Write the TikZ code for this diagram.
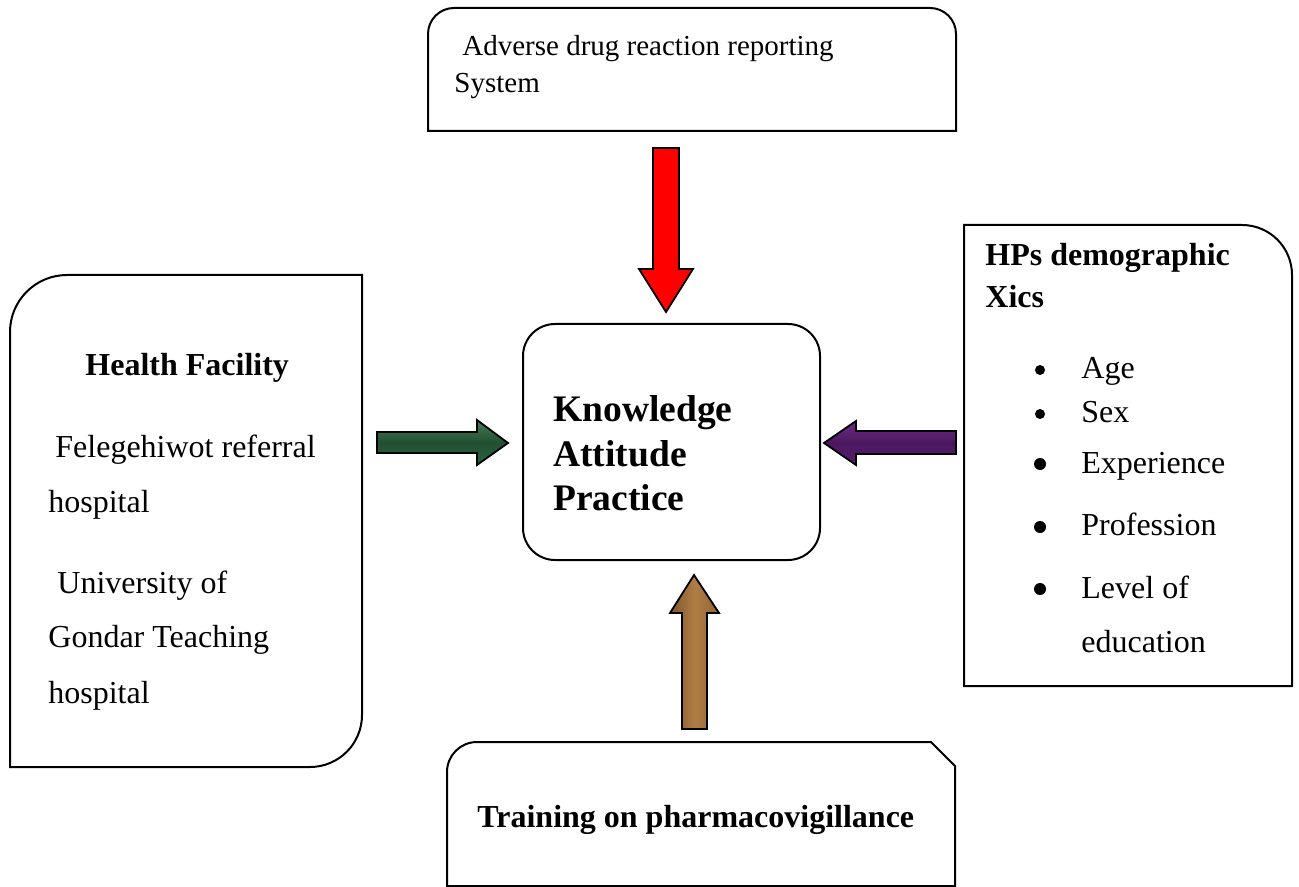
\documentclass[tikz,border=0pt]{standalone}
\usepackage{fontspec}
\setmainfont{Liberation Serif}
\begin{document}
\begin{tikzpicture}[x=0.5pt,y=-0.5pt,
  boxline/.style={draw=black,line width=1pt,fill=white},
  txt/.style={anchor=base west,inner sep=0pt,font=\fontsize{16pt}{19pt}\selectfont},
  btxt/.style={txt,font=\fontsize{16pt}{19pt}\selectfont\bfseries},
  toptxt/.style={txt,font=\fontsize{14.5pt}{17pt}\selectfont},
  kaptxt/.style={txt,font=\fontsize{18.75pt}{22pt}\selectfont\bfseries},
  blockarrow/.style={draw=black,line width=0.9pt,line join=miter}]
\definecolor{arrgreen}{RGB}{42,100,62}
\definecolor{arrgreenl}{RGB}{70,125,85}
\definecolor{arrpurple}{RGB}{88,28,112}
\definecolor{arrpurplel}{RGB}{110,45,135}
\definecolor{arrbrown}{RGB}{150,100,52}
\definecolor{arrbrownl}{RGB}{175,125,70}
\useasboundingbox (0,0) rectangle (1299,887);
\clip (0,0) rectangle (1299,887);

% top box
\path[boxline] (428,131) -- (428,34) arc[start angle=180,end angle=270,radius=26]
  -- (930,8) arc[start angle=270,end angle=360,radius=26] -- (956,131) -- cycle;
\node[toptxt] (adr1) at (462,56) {Adverse drug reaction reporting};
\node[toptxt] (adr2) at (454,93) {System};

% left box
\path[boxline] (10,767) -- (10,332) arc[start angle=180,end angle=270,radius=57]
  -- (362,275) -- (362,715) arc[start angle=0,end angle=90,radius=52] -- cycle;
\node[btxt] (hf) at (85,375) {Health Facility};
\node[txt] (hf1) at (55,457) {Felegehiwot referral};
\node[txt] (hf2) at (48,512) {hospital};
\node[txt] (hf3) at (57,593) {University of};
\node[txt] (hf4) at (48,647) {Gondar Teaching};
\node[txt] (hf5) at (48,703) {hospital};

% right box
\path[boxline] (964,686) -- (964,225) -- (1242,225) arc[start angle=270,end angle=360,radius=50]
  -- (1292,686) -- cycle;
\node[btxt] (hp1) at (985,266) {HPs demographic};
\node[btxt] (hp2) at (985,307) {Xics};
\fill (1040,370) circle[radius=5];
\fill (1040,414) circle[radius=5];
\fill (1040,464) circle[radius=6];
\fill (1040,527) circle[radius=6];
\fill (1040,589) circle[radius=6];
\node[txt] (age) at (1081,378) {Age};
\node[txt] (sex) at (1081,422) {Sex};
\node[txt] (exp) at (1081,473) {Experience};
\node[txt] (pro) at (1081,535) {Profession};
\node[txt] (lev) at (1081,598) {Level of};
\node[txt] (edu) at (1081,652) {education};

% central box
\draw[line width=1pt,rounded corners=16pt] (523,324) rectangle (820,560);
\node[kaptxt] (k1) at (553,421) {Knowledge};
\node[kaptxt] (k2) at (553,466) {Attitude};
\node[kaptxt] (k3) at (553,510) {Practice};

% bottom box
\path[boxline] (447,886) -- (447,772) arc[start angle=180,end angle=270,radius=30]
  -- (931,742) -- (955,766) -- (955,886) -- cycle;
\node[btxt] (tr) at (477,827) {Training on pharmacovigillance};

% block arrows
\filldraw[blockarrow,fill=red] (653,148) -- (679,148) -- (679,269) -- (693,269)
  -- (666,312) -- (639,269) -- (653,269) -- cycle;
\filldraw[blockarrow,top color=arrgreenl,bottom color=arrgreen,middle color=arrgreen!80!black]
  (377,432) -- (477,432) -- (477,420) -- (508,443) -- (477,465) -- (477,453) -- (377,453) -- cycle;
\filldraw[blockarrow,top color=arrpurplel,bottom color=arrpurple,middle color=arrpurple!85!black]
  (956,431) -- (856,431) -- (856,421) -- (824,443) -- (856,465) -- (856,454) -- (956,454) -- cycle;
\filldraw[blockarrow,left color=arrbrown!85!black,right color=arrbrown,middle color=arrbrownl]
  (682,729) -- (682,613) -- (670,613) -- (694,575) -- (719,613) -- (707,613) -- (707,729) -- cycle;
\end{tikzpicture}
\end{document}
